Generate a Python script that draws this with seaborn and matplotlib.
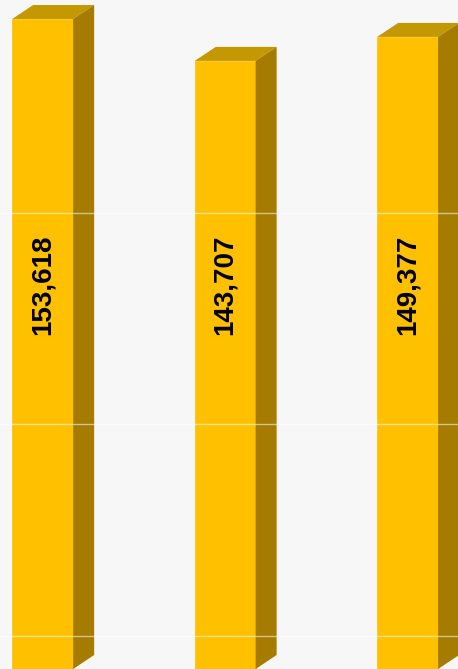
# Importing libraries.
import numpy as np
import pandas as pd
import matplotlib.pyplot as plt
import matplotlib.transforms as mtransforms
from matplotlib.patches import Polygon
import seaborn as sns

# Chart data.
categories = ["Bar 1", "Bar 2", "Bar 3"]
values = [153618, 143707, 149377]
grid_values = [0, 50000, 100000]

df = pd.DataFrame({"category": categories, "value": values})

# Colours.
front_color = "#FFC000"
top_color = "#C49800"
side_color = "#A57B00"
bg_color = "#F7F7F7"

sns.set_style("white")
plt.rcParams["font.family"] = ["Liberation Sans", "DejaVu Sans"]

fig = plt.figure(figsize=(4.58, 6.69), dpi=100)
fig.patch.set_facecolor(bg_color)
ax = fig.add_axes([0, 0, 1, 1])
ax.set_facecolor(bg_color)

# Front faces of the bars.
sns.barplot(data=df, x="category", y="value", color=front_color,
            saturation=1, width=0.334, ax=ax, zorder=2)

ax.set_xlim(-0.234, 2.276)
ax.set_ylim(0, 158100)

# Depth of the fake 3D boxes, in pixels converted to data units.
depth_x = 21 / 182.5
depth_y = 14 * 236.3

for bar in ax.patches:
    bar.set_edgecolor(front_color)
    bar.set_linewidth(0.5)
    x0 = bar.get_x()
    x1 = x0 + bar.get_width()
    h = bar.get_height()
    top = Polygon([(x0, h), (x1, h), (x1 + depth_x, h + depth_y), (x0 + depth_x, h + depth_y)],
                  closed=True, facecolor=top_color, edgecolor="none", zorder=2)
    side = Polygon([(x1, 0), (x1, h), (x1 + depth_x, h + depth_y), (x1 + depth_x, depth_y)],
                   closed=True, facecolor=side_color, edgecolor="none", zorder=2)
    ax.add_patch(top)
    ax.add_patch(side)

# Value labels, rotated inside the bars.
for i, v in enumerate(values):
    ax.text(i, 0.574, f"{v:,}", transform=ax.get_xaxis_transform(),
            rotation=90, ha="center", va="center", fontsize=20,
            fontweight="bold", color="black", zorder=4)

# Faint gridlines on the back wall (shifted up by the depth).
back_wall = ax.get_yaxis_transform() + mtransforms.ScaledTranslation(0, 0.33, fig.dpi_scale_trans)
for g in grid_values:
    ax.plot([0, 1], [g, g], transform=back_wall, color="white", alpha=0.55,
            linewidth=1, zorder=3)

ax.axis("off")

plt.savefig("out.png", dpi=100, facecolor=bg_color)
